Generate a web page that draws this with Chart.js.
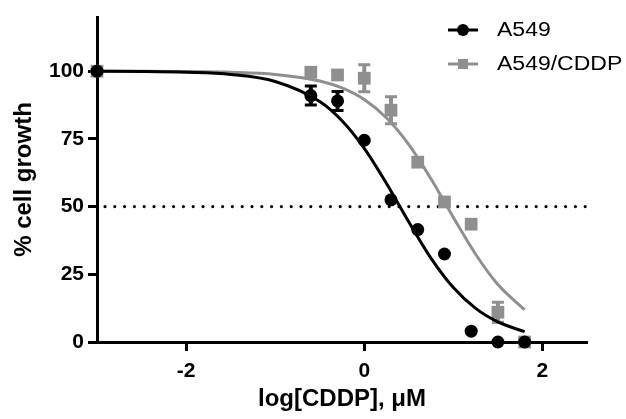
<!DOCTYPE html>
<html>
<head>
<meta charset="utf-8">
<script src="https://cdn.jsdelivr.net/npm/chart.js@4.4.0/dist/chart.umd.min.js"></script>
<style>
html, body { margin: 0; padding: 0; background: #fff; }
</style>
</head>
<body>
<canvas id="doseChart" width="626" height="419"></canvas>
<script>
// log[CDDP] (uM) of each dose, -3 is the untreated control
var doses = [-3, -0.6, -0.3, 0, 0.3, 0.6, 0.9, 1.2, 1.5, 1.8];
var a549 = [100, 91, 89, 74.5, 52.5, 41.5, 32.5, 4, 0, 0];
var a549Err = [0, 3.5, 3.5, 0, 0, 0, 0, 0, 0, 0];
var cddp = [100, 99.6, 98.6, 97.4, 85.6, 66.4, 51.7, 43.5, 11, 0];
var cddpErr = [0, 0, 0, 5, 5, 0, 0, 0, 3.7, 0];

// fitted curves
var fitX = [-3, -2.5, -2, -1.5, -1, -0.5, -0.25, 0, 0.25, 0.5, 0.75, 1, 1.25, 1.5, 1.8];
var a549Fit = [100, 99.9, 99.6, 98.8, 96.2, 88.8, 81.7, 71.5, 58.5, 44.3, 30.9, 20.1, 12.4, 7.4, 3.8];
var cddpFit = [100, 100, 99.9, 99.6, 98.8, 96.4, 93.8, 89.5, 82.7, 72.9, 60.2, 46, 32.4, 21.2, 11.9];

var halfLine = 50;
var xTicks = [-2, 0, 2];
var yTicks = [0, 25, 50, 75, 100];
var names = ['A549', 'A549/CDDP'];

var grey = '#8f8f8f';
var fontFamily = '"Liberation Sans", Arial, sans-serif';

function pairs(xs, ys) {
	return xs.map(function (x, i) { return { x: x, y: ys[i] }; });
}

// vertical error bars with caps
var errorBars = {
	id: 'errorBars',
	beforeDatasetsDraw: function (chart) {
		var ctx = chart.ctx, sx = chart.scales.x, sy = chart.scales.y;
		[[a549, a549Err, '#000'], [cddp, cddpErr, grey]].forEach(function (s) {
			ctx.save();
			ctx.strokeStyle = s[2];
			doses.forEach(function (d, i) {
				if (!s[1][i]) return;
				var px = sx.getPixelForValue(d);
				var top = sy.getPixelForValue(s[0][i] + s[1][i]);
				var bot = sy.getPixelForValue(s[0][i] - s[1][i]);
				ctx.lineWidth = 4;
				ctx.beginPath();
				ctx.moveTo(px, top); ctx.lineTo(px, bot);
				ctx.stroke();
				ctx.lineWidth = 3;
				ctx.beginPath();
				ctx.moveTo(px - 6, top); ctx.lineTo(px + 6, top);
				ctx.moveTo(px - 6, bot); ctx.lineTo(px + 6, bot);
				ctx.stroke();
			});
			ctx.restore();
		});
	}
};

// legend in the top right corner (text a little wide, like the original)
var legendBox = {
	id: 'legendBox',
	afterDraw: function (chart) {
		var ctx = chart.ctx;
		var rows = [[30, '#000', 'circle'], [64, grey, 'rect']];
		ctx.save();
		ctx.font = '20px ' + fontFamily;
		ctx.textBaseline = 'middle';
		rows.forEach(function (r, i) {
			ctx.strokeStyle = r[1];
			ctx.fillStyle = r[1];
			ctx.lineWidth = 3;
			ctx.beginPath();
			ctx.moveTo(448, r[0]); ctx.lineTo(478, r[0]);
			ctx.stroke();
			if (r[2] === 'circle') {
				ctx.beginPath();
				ctx.arc(463, r[0], 6, 0, Math.PI * 2);
				ctx.fill();
			} else {
				ctx.fillRect(458, r[0] - 5, 10, 10);
			}
			ctx.fillStyle = '#000';
			ctx.save();
			ctx.translate(497, r[0]);
			ctx.scale(1.15, 1);
			ctx.fillText(names[i], 0, 0);
			ctx.restore();
		});
		ctx.restore();
	}
};

var ctx = document.getElementById('doseChart').getContext('2d');
var doseChart = new Chart(ctx, {
	type: 'scatter',
	data: {
		datasets: [{
			label: names[0],
			data: pairs(doses, a549),
			pointStyle: 'circle',
			pointRadius: 6.5,
			pointBackgroundColor: '#000',
			pointBorderWidth: 0,
			clip: false
		}, {
			type: 'line',
			data: pairs(fitX, a549Fit),
			borderColor: '#000',
			borderWidth: 3,
			pointRadius: 0,
			cubicInterpolationMode: 'monotone',
			fill: false,
			clip: false
		}, {
			label: names[1],
			data: pairs(doses, cddp),
			pointStyle: 'rect',
			pointRadius: 9,
			pointBackgroundColor: grey,
			pointBorderWidth: 0,
			clip: false
		}, {
			type: 'line',
			data: pairs(fitX, cddpFit),
			borderColor: grey,
			borderWidth: 3,
			pointRadius: 0,
			cubicInterpolationMode: 'monotone',
			fill: false,
			clip: false
		}, {
			type: 'line',
			data: [{ x: -3, y: halfLine }, { x: 2.5, y: halfLine }],
			borderColor: '#000',
			borderWidth: 3.2,
			borderCapStyle: 'round',
			borderDash: [0, 9.8],
			borderDashOffset: -8,
			pointRadius: 0,
			fill: false
		}]
	},
	options: {
		responsive: false,
		animation: false,
		layout: { padding: { left: 0, right: 39, top: 17, bottom: 0 } },
		plugins: { legend: { display: false }, tooltip: { enabled: false } },
		scales: {
			x: {
				type: 'linear',
				min: -3,
				max: 2.5,
				afterBuildTicks: function (s) { s.ticks = xTicks.map(function (v) { return { value: v }; }); },
				afterFit: function (s) { s.height = 77; },
				grid: { drawOnChartArea: false, tickLength: 9, tickWidth: 3, tickColor: '#000' },
				border: { color: '#000', width: 3 },
				ticks: { color: '#000', padding: 8, font: { family: fontFamily, size: 21, weight: 'bold' } },
				title: {
					display: true,
					text: 'log[CDDP], μM',
					color: '#000',
					padding: { top: 0, bottom: 5 },
					font: { family: fontFamily, size: 24, weight: 'bold' }
				}
			},
			y: {
				min: 0,
				max: 120,
				afterBuildTicks: function (s) { s.ticks = yTicks.map(function (v) { return { value: v }; }); },
				afterFit: function (s) { s.width = 97; },
				grid: { drawOnChartArea: false, tickLength: 9, tickWidth: 3, tickColor: '#000' },
				border: { color: '#000', width: 3 },
				ticks: { color: '#000', padding: 4, font: { family: fontFamily, size: 21, weight: 'bold' } },
				title: {
					display: true,
					text: '% cell growth',
					color: '#000',
					padding: { top: 10, bottom: 0 },
					font: { family: fontFamily, size: 24, weight: 'bold' }
				}
			}
		}
	},
	plugins: [errorBars, legendBox]
});
</script>
</body>
</html>
